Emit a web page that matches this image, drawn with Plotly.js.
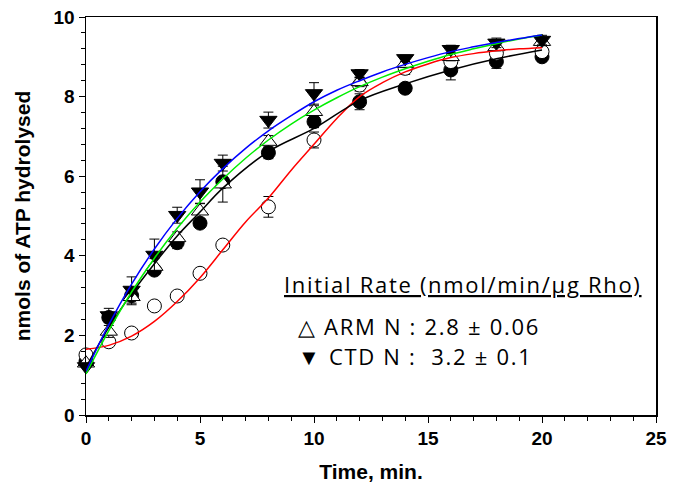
<!DOCTYPE html>
<html><head><meta charset="utf-8">
<script src="https://cdn.plot.ly/plotly-3.0.1.min.js"></script>
<style>html,body{margin:0;padding:0;background:#fff;}#chart{width:677px;height:491px;}
.annotation-text{letter-spacing:1.7px;}</style>
</head><body><div id="chart"></div>
<script>
// Measured time points (min)
var time = [0,1,2,3,4,5,6,8,10,12,14,16,18,20];
// Series values (nmols ATP hydrolysed)
var filledCircle = [1.35,2.45,3.0,3.64,4.33,4.82,5.86,6.59,7.37,7.87,8.21,8.67,8.88,9.0];
var filledCircleErr = [0,0.1,0.1,0.1,0.15,0.1,0.1,0.15,0.15,0.2,0.1,0.25,0.17,0.1];
var openCircle = [1.51,1.84,2.06,2.74,2.99,3.56,4.27,5.23,6.91,8.29,8.71,8.88,9.09,9.13];
var openCircleErr = [0,0.05,0.05,0.05,0.05,0.05,0.05,0.26,0.2,0.15,0.15,0.1,0.1,0.1];
var armN = [1.3,2.1,2.97,3.73,4.45,5.12,5.8,6.87,7.62,8.37,8.83,9.0,9.25,9.38];
var armNErr = [0,0.15,0.2,0.2,0.15,0.2,0.45,0.15,0.15,0.12,0.1,0.1,0.1,0.1];
var ctdN = [1.22,2.5,3.14,4.02,5.02,5.61,6.33,7.41,8.08,8.58,8.96,9.19,9.35,9.42];
var ctdNErr = [0,0.18,0.33,0.4,0.2,0.3,0.2,0.2,0.27,0.1,0.08,0.1,0.12,0.12];

// Fitted curves
var fitTime = [0,1,2,3,4,5,6,7,8,9,10,11,12,13,14,15,16,17,18,19,20];
var fitBlue = [1.1,2.27,3.29,4.17,4.94,5.61,6.19,6.7,7.14,7.52,7.87,8.16,8.40,8.62,8.81,8.98,9.13,9.25,9.36,9.46,9.55];
var fitGreen = [1.03,2.12,3.09,3.94,4.69,5.35,5.93,6.45,6.91,7.31,7.66,7.97,8.25,8.49,8.70,8.89,9.06,9.2,9.33,9.45,9.55];
var fitRed = [1.65,1.75,1.98,2.35,2.85,3.45,4.15,4.85,5.45,6.15,6.8,7.45,8.0,8.35,8.62,8.82,8.98,9.08,9.15,9.2,9.23];
var fitBlack = [1.2,2.2,3.05,3.8,4.5,5.1,5.7,6.62,7.2,7.9,8.32,8.67,8.95,9.17];

var xTickVals = [0,5,10,15,20,25];
var yTickVals = [0,2,4,6,8,10];

var labelTitle = "<u>Initial Rate (nmol/min/μg Rho)</u>";
var labelArm = "△ ARM N : 2.8 ± 0.06";
var labelCtd = "▼ CTD N :  3.2 ± 0.1";

function markerTrace(y, err, symbol, fill, size){
  return {x: time, y: y, type:'scatter', mode:'markers', showlegend:false, cliponaxis:false,
    marker:{symbol:symbol, size:size, color:fill, line:{color:'#000', width:1}},
    error_y:{type:'data', array:err, visible:true, color:'#000', thickness:1, width:5}};
}
function lineTrace(x, y, color, shape){
  return {x:x, y:y, type:'scatter', mode:'lines', showlegend:false, hoverinfo:'skip',
    line:{color:color, width:1.5, shape:shape, smoothing:1}};
}

var data = [
  markerTrace(filledCircle, filledCircleErr, 'circle', '#000', 14),
  markerTrace(openCircle, openCircleErr, 'circle', '#fff', 14),
  markerTrace(armN, armNErr, 'triangle-up', '#fff', 15),
  markerTrace(ctdN, ctdNErr, 'triangle-down', '#000', 15),
  lineTrace(fitTime, fitRed, '#ff0000', 'spline'),
  lineTrace(time, fitBlack, '#000000', 'spline'),
  lineTrace(fitTime, fitGreen, '#00ee00', 'spline'),
  lineTrace(fitTime, fitBlue, '#0000ff', 'spline')
];

var tickFont = {family:'Liberation Sans, Arial, sans-serif', size:19, color:'#000', weight:'bold'};
var titleFont = {family:'Liberation Sans, Arial, sans-serif', size:21, color:'#000', weight:'bold'};
var annFont = {family:'Open Sans, sans-serif', size:22, color:'#000'};

var layout = {
  width:677, height:491,
  margin:{l:86, r:21, t:17, b:76},
  paper_bgcolor:'#fff', plot_bgcolor:'#fff',
  xaxis:{range:[0,25], tickvals:xTickVals, ticks:'outside', ticklen:6, tickwidth:1, tickcolor:'#000',
    showline:true, linecolor:'#000', linewidth:1.5, mirror:true, showgrid:false, zeroline:false,
    tickfont:tickFont,
    minor:{dtick:1, ticks:'outside', ticklen:4, tickcolor:'#000', showgrid:false},
    title:{text:'Time, min.', font:titleFont, standoff:16}},
  yaxis:{range:[0,10], tickvals:yTickVals, ticks:'outside', ticklen:6, tickwidth:1, tickcolor:'#000',
    showline:true, linecolor:'#000', linewidth:1.5, mirror:true, showgrid:false, zeroline:false,
    tickfont:tickFont,
    minor:{dtick:0.4, ticks:'outside', ticklen:4, tickcolor:'#000', showgrid:false},
    title:{text:'nmols of ATP hydrolysed', font:titleFont, standoff:17}},
  annotations:[
    {x:8.6, y:3.3, xref:'x', yref:'y', text:labelTitle, showarrow:false, xanchor:'left', yanchor:'middle', font:annFont},
    {x:9.2, y:2.24, xref:'x', yref:'y', text:labelArm, showarrow:false, xanchor:'left', yanchor:'middle', font:annFont},
    {x:9.2, y:1.48, xref:'x', yref:'y', text:labelCtd, showarrow:false, xanchor:'left', yanchor:'middle', font:annFont}
  ]
};
Plotly.newPlot('chart', data, layout, {staticPlot:true});
</script></body></html>
